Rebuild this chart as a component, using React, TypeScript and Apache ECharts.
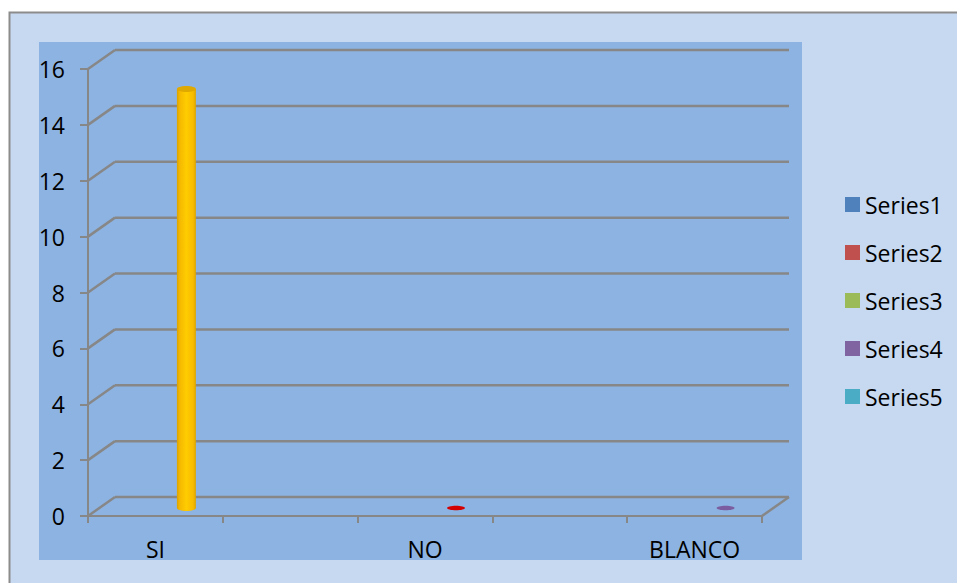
import React, { useEffect, useRef } from "react";
import * as echarts from "echarts";

// Category slots along the floor (labels only on every other slot)
const categories = ["SI", "", "NO", "", "BLANCO"];
// Value axis ticks
const yTicks = [0, 2, 4, 6, 8, 10, 12, 14, 16];
// Column marks: slot, value, colour
const markSlots = [0, 2, 4];
const markValues = [15, 0, 0];
const markColors = ["#ffc000", "#d40000", "#7b5c9e"];
// Legend entries
const seriesNames = ["Series1", "Series2", "Series3", "Series4", "Series5"];
const seriesColors = ["#4f81bd", "#c0504d", "#9bbb59", "#8064a2", "#4bacc6"];

const FONT = "'Open Sans', 'Liberation Sans', sans-serif";
const GRID_COLOR = "#878787";
// depth offset of the back wall
const DX = 27;
const DY = -19;
// offset of the columns inside the depth
const BX = 31;
const BY = -8;

export default function App() {
  const ref = useRef<HTMLDivElement>(null);

  useEffect(() => {
    if (!ref.current) return;
    const chart = echarts.init(ref.current, undefined, { renderer: "svg" });

    const gridLines = yTicks.map((v) => [0, v]);
    const marks = markSlots.map((s, i) => [s, markValues[i], i]);

    const option: any = {
      animation: false,
      backgroundColor: "#ffffff",
      textStyle: { fontFamily: FONT },
      graphic: [
        {
          type: "rect",
          z: 0,
          silent: true,
          shape: { x: 9.5, y: 12.5, width: 960, height: 600 },
          style: { fill: "#c6d9f1", stroke: "#8c8c8c", lineWidth: 2 },
        },
        {
          type: "rect",
          z: 0,
          silent: true,
          shape: { x: 39, y: 42, width: 763, height: 518 },
          style: { fill: "#8db3e2" },
        },
      ],
      legend: {
        orient: "vertical",
        left: 840,
        top: 188,
        itemWidth: 15,
        itemHeight: 15,
        itemGap: 25,
        icon: "rect",
        textStyle: { fontSize: 23, color: "#000", fontFamily: FONT },
        data: seriesNames,
      },
      grid: { left: 88, top: 69, width: 674, height: 447 },
      xAxis: {
        type: "category",
        data: categories,
        boundaryGap: true,
        axisLine: { show: true, lineStyle: { color: GRID_COLOR, width: 2 } },
        axisTick: { show: true, interval: 0, length: 7, lineStyle: { color: GRID_COLOR, width: 2 } },
        axisLabel: { interval: 0, margin: 21, fontSize: 23, color: "#000", fontFamily: FONT },
        splitLine: { show: false },
      },
      yAxis: {
        type: "value",
        min: 0,
        max: 16,
        interval: 2,
        axisLine: { show: true, lineStyle: { color: GRID_COLOR, width: 2 } },
        axisTick: { show: true, length: 8, lineStyle: { color: GRID_COLOR, width: 2 } },
        axisLabel: { margin: 23, fontSize: 23, color: "#000", fontFamily: FONT },
        splitLine: { show: false },
      },
      series: [
        ...seriesNames.map((name, i) => ({
          name,
          type: "bar",
          data: [],
          itemStyle: { color: seriesColors[i] },
        })),
        {
          type: "custom",
          silent: true,
          z: 1,
          data: gridLines,
          encode: { x: 0, y: 1 },
          renderItem: (params: any, api: any) => {
            const v = api.value(1);
            const cs = params.coordSys;
            const y = api.coord([0, v])[1];
            const x0 = cs.x;
            const x1 = cs.x + cs.width;
            const style = { stroke: GRID_COLOR, lineWidth: 2.5 };
            const children: any[] = [
              { type: "line", shape: { x1: x0, y1: y, x2: x0 + DX, y2: y + DY }, style },
              { type: "line", shape: { x1: x0 + DX, y1: y + DY, x2: x1 + DX, y2: y + DY }, style },
            ];
            if (v === 0) {
              children.push({ type: "line", shape: { x1: x1, y1: y, x2: x1 + DX, y2: y + DY }, style });
            }
            return { type: "group", children };
          },
        },
        {
          type: "custom",
          z: 3,
          data: marks,
          encode: { x: 0, y: 1 },
          renderItem: (params: any, api: any) => {
            const slot = api.value(0);
            const val = api.value(1);
            const color = markColors[api.value(2)];
            const base = api.coord([slot, 0]);
            const top = api.coord([slot, val]);
            const cx = base[0] + BX;
            const yb = base[1] + BY;
            const yt = top[1] + BY;
            if (val <= 0) {
              return {
                type: "ellipse",
                shape: { cx, cy: yb, rx: 9, ry: 2.3 },
                style: { fill: color },
              };
            }
            const w = 19;
            const ry = 3;
            const body = new echarts.graphic.LinearGradient(0, 0, 1, 0, [
              { offset: 0, color: "#d9a200" },
              { offset: 0.15, color: "#f5b800" },
              { offset: 0.5, color: "#ffcc00" },
              { offset: 0.85, color: "#f7bc00" },
              { offset: 1, color: "#dca400" },
            ]);
            return {
              type: "group",
              children: [
                { type: "rect", shape: { x: cx - w / 2, y: yt, width: w, height: yb - yt }, style: { fill: body } },
                { type: "ellipse", shape: { cx, cy: yb, rx: w / 2, ry }, style: { fill: body } },
                { type: "ellipse", shape: { cx, cy: yt, rx: w / 2, ry }, style: { fill: "#e0a900" } },
              ],
            };
          },
        },
      ],
    };

    chart.setOption(option);
    return () => chart.dispose();
  }, []);

  return (
    <div
      ref={ref}
      style={{ position: "fixed", left: 0, top: 0, width: 957, height: 583 }}
    />
  );
}
